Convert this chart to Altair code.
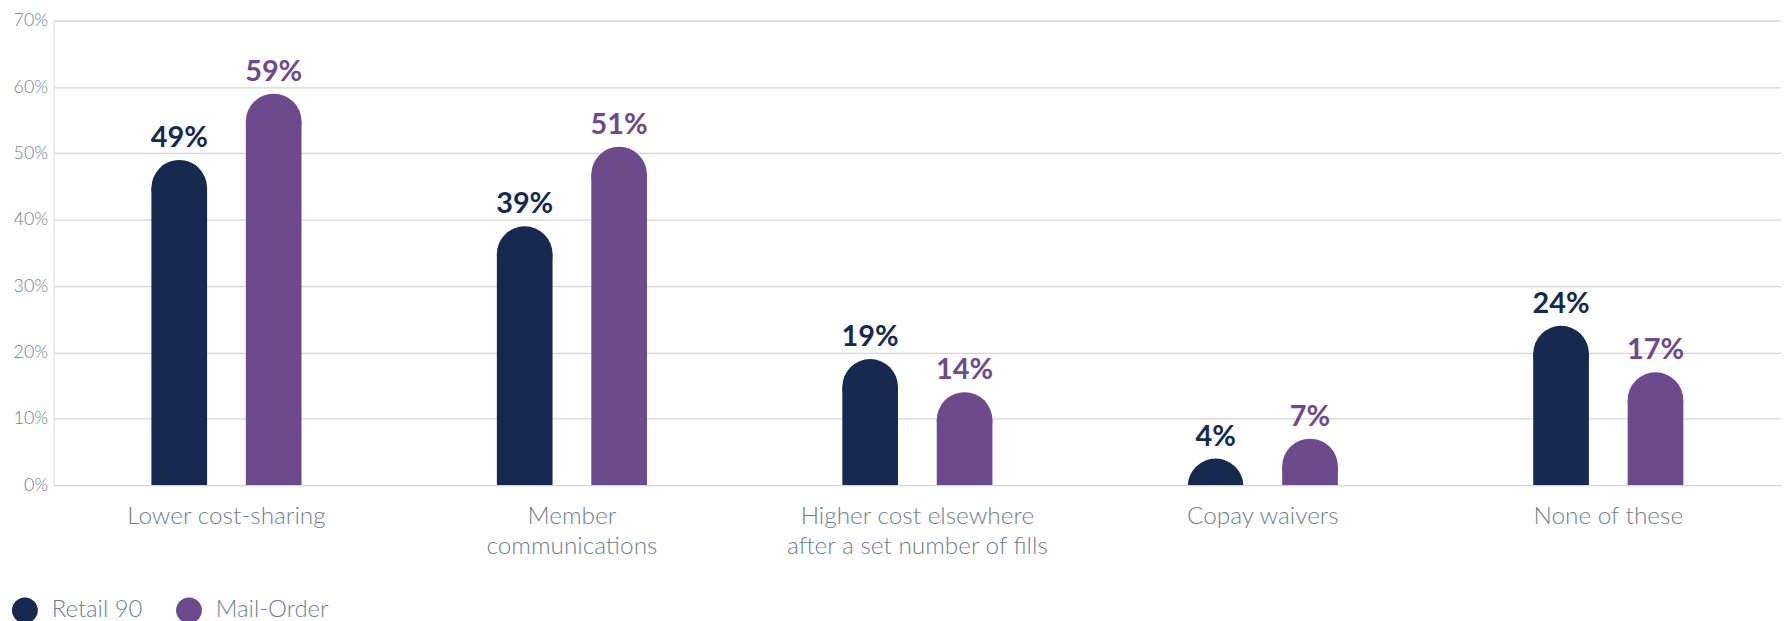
import altair as alt
import pandas as pd

categories = [
    "Lower cost-sharing",
    "Member communications",
    "Higher cost elsewhere after a set number of fills",
    "Copay waivers",
    "None of these",
]
series = ["Retail 90", "Mail-Order"]
retail_90 = [49, 39, 19, 4, 24]
mail_order = [59, 51, 14, 7, 17]
y_ticks = [0, 10, 20, 30, 40, 50, 60, 70]
colors = ["#162a4f", "#6d4a8c"]

rows = []
for c, r, m in zip(categories, retail_90, mail_order):
    rows.append({"category": c, "series": series[0], "value": r})
    rows.append({"category": c, "series": series[1], "value": m})
df = pd.DataFrame(rows)

FONT = "Lato"
GRAY = "#6e7f8d"
BAR_W = 56
R = BAR_W / 2

label_expr = (
    "datum.label == 'Member communications' ? ['Member', 'communications'] : "
    "datum.label == 'Higher cost elsewhere after a set number of fills' ? "
    "['Higher cost elsewhere', 'after a set number of fills'] : datum.label"
)

base = alt.Chart(df).encode(
    x=alt.X(
        "category:N",
        sort=categories,
        title=None,
        scale=alt.Scale(paddingInner=0, paddingOuter=0),
        axis=alt.Axis(
            labelAngle=0,
            labelFont=FONT,
            labelFontSize=24.5,
            labelFontWeight=300,
            labelColor=GRAY,
            labelLineHeight=30,
            labelPadding=20,
            labelLimit=0,
            labelExpr=label_expr,
            ticks=False,
            domain=False,
            grid=False,
        ),
    ),
    xOffset=alt.XOffset(
        "series:N",
        sort=series,
        scale=alt.Scale(paddingInner=0, paddingOuter=0.829),
    ),
    y=alt.Y(
        "value:Q",
        title=None,
        scale=alt.Scale(domain=[0, 70], nice=False),
        axis=alt.Axis(
            values=y_ticks,
            labelExpr="datum.value + '%'",
            labelFont=FONT,
            labelFontSize=18,
            labelFontWeight=300,
            labelColor=GRAY,
            labelPadding=6,
            ticks=False,
            domain=False,
            grid=True,
            gridColor="#d6d6d6",
            gridWidth=1.2,
        ),
    ),
    color=alt.Color(
        "series:N",
        sort=series,
        scale=alt.Scale(domain=series, range=colors),
        legend=alt.Legend(
            title=None,
            orient="none",
            direction="horizontal",
            legendX=-42,
            legendY=580,
            symbolType="circle",
            symbolSize=676,
            symbolStrokeWidth=0,
            symbolOpacity=1,
            labelFont=FONT,
            labelFontSize=24,
            labelFontWeight=300,
            labelColor=GRAY,
            labelOffset=14,
            columnPadding=33,
            padding=0,
        ),
    ),
)

# bar body stops half a bar-width below the value; a circle caps it
bodies = base.mark_bar(width=BAR_W, yOffset=R, opacity=1, clip=True)
caps = base.mark_point(
    shape="circle",
    filled=True,
    size=BAR_W * BAR_W,
    opacity=1,
    strokeWidth=0,
    yOffset=R,
    clip=True,
)

labels = base.mark_text(
    font=FONT,
    fontSize=29,
    fontWeight="bold",
    baseline="alphabetic",
    dy=-13,
).encode(text=alt.Text("label:N")).transform_calculate(
    label="datum.value + '%'"
)

chart = (
    alt.layer(bodies, caps, labels)
    .properties(
        width=1737,
        height=467,
        autosize=alt.AutoSizeParams(type="none"),
        padding={"left": 46, "top": 11, "right": 0, "bottom": 147},
    )
    .configure_view(stroke=None)
    .configure(background="white")
)

chart.save("out.html", embed_options={"renderer": "svg", "actions": False})
